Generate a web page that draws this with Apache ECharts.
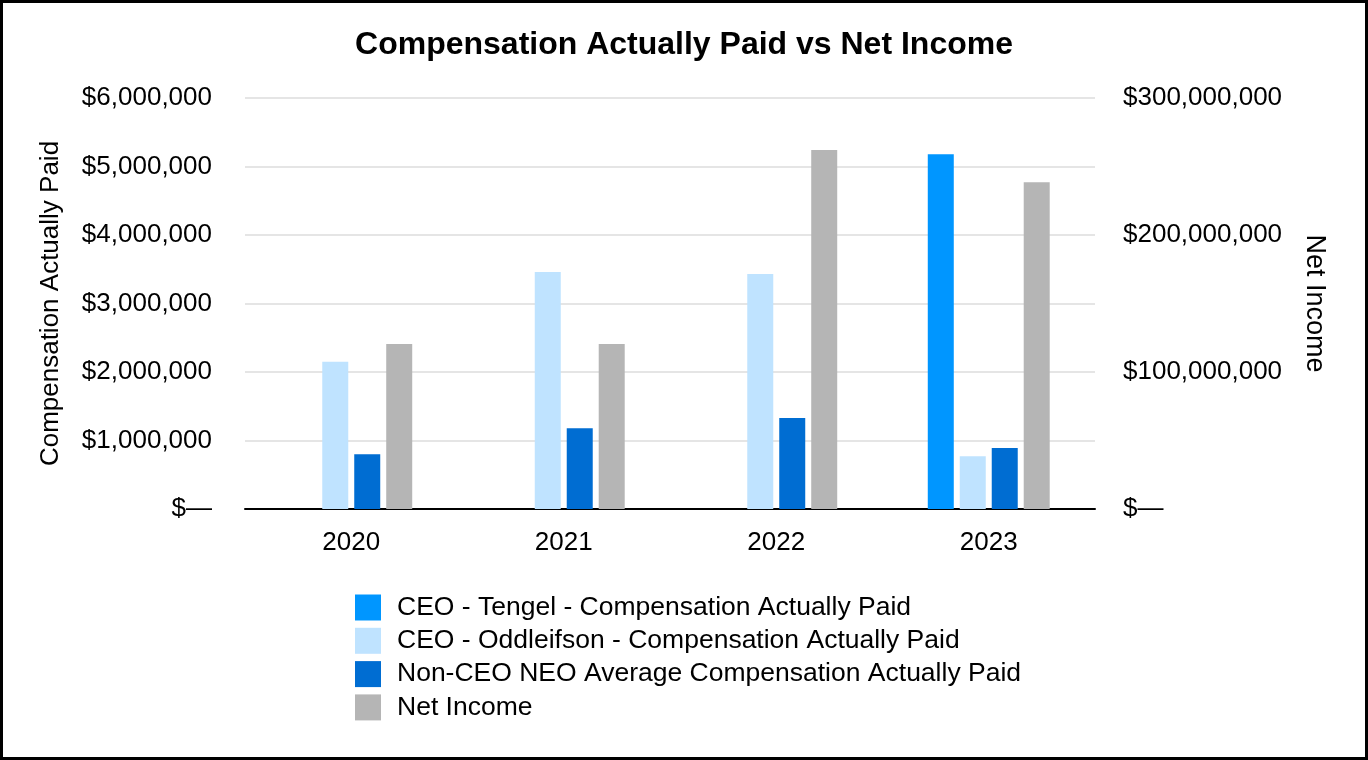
<!DOCTYPE html>
<html>
<head>
<meta charset="utf-8">
<script src="https://cdn.jsdelivr.net/npm/echarts@6/dist/echarts.min.js"></script>
<style>
html,body{margin:0;padding:0;background:#fff;}
#chart{width:1368px;height:760px;}
</style>
</head>
<body>
<div id="chart"></div>
<script>
const categories = ['2020', '2021', '2022', '2023'];
const seriesNames = [
  'CEO - Tengel - Compensation Actually Paid',
  'CEO - Oddleifson - Compensation Actually Paid',
  'Non-CEO NEO Average Compensation Actually Paid',
  'Net Income'
];
const tengel = [null, null, null, 5180000];
const oddleifson = [2150000, 3460000, 3430000, 770000];
const nonCeo = [800000, 1180000, 1330000, 890000];
const netIncome = [120500000, 120500000, 262000000, 238500000];
const colors = ['#0096FF', '#BFE3FF', '#006DD2', '#B5B5B5'];

const FONT = '"Liberation Sans", Arial, sans-serif';
function money(v) {
  if (v === 0) return '$\u2014';
  return '$' + v.toLocaleString('en-US');
}

const chart = echarts.init(document.getElementById('chart'));
const barCommon = { type: 'bar', barWidth: 26, barGap: '23%' };
chart.setOption({
  animation: false,
  textStyle: { fontFamily: FONT },
  title: {
    text: 'Compensation Actually Paid vs Net Income',
    left: 'center', top: 24,
    textStyle: { fontFamily: FONT, fontWeight: 'bold', fontSize: 32, color: '#000' }
  },
  legend: {
    orient: 'vertical', left: 355, top: 594, padding: 0,
    itemWidth: 26, itemHeight: 26, itemGap: 6.3,
    icon: 'rect',
    textStyle: { fontFamily: FONT, fontSize: 26.5, lineHeight: 26, color: '#000', padding: [0, 0, 0, 11] },
    data: seriesNames
  },
  graphic: [{
    type: 'rect', silent: true,
    shape: { x: 1.5, y: 1.5, width: 1365, height: 757 },
    style: { fill: 'none', stroke: '#000', lineWidth: 3 }
  }],
  grid: { left: 245, right: 273, top: 98, bottom: 251, containLabel: false },
  xAxis: {
    type: 'category', data: categories,
    axisLine: { lineStyle: { color: '#000', width: 2 } },
    axisTick: { show: false },
    axisLabel: { fontSize: 26, color: '#000', margin: 21, fontFamily: FONT }
  },
  yAxis: [{
    type: 'value', min: 0, max: 6000000, interval: 1000000,
    name: 'Compensation Actually Paid', nameLocation: 'middle', nameGap: 181,
    nameTextStyle: { fontSize: 26, color: '#000', fontFamily: FONT },
    axisLine: { show: false }, axisTick: { show: false },
    axisLabel: { formatter: money, fontSize: 26, color: '#000', margin: 33, fontFamily: FONT },
    splitLine: { lineStyle: { color: '#E5E5E5', width: 2 } }
  }, {
    type: 'value', min: 0, max: 300000000, interval: 100000000,
    name: 'Net Income', nameLocation: 'middle', nameGap: 206, nameRotate: -90,
    nameTextStyle: { fontSize: 27, color: '#000', fontFamily: FONT },
    axisLine: { show: false }, axisTick: { show: false },
    axisLabel: { formatter: money, fontSize: 26, color: '#000', margin: 28, fontFamily: FONT },
    splitLine: { show: false }
  }],
  series: [
    Object.assign({ name: seriesNames[0], data: tengel, yAxisIndex: 0, itemStyle: { color: colors[0] } }, barCommon),
    Object.assign({ name: seriesNames[1], data: oddleifson, yAxisIndex: 0, itemStyle: { color: colors[1] } }, barCommon),
    Object.assign({ name: seriesNames[2], data: nonCeo, yAxisIndex: 0, itemStyle: { color: colors[2] } }, barCommon),
    Object.assign({ name: seriesNames[3], data: netIncome, yAxisIndex: 1, itemStyle: { color: colors[3] } }, barCommon)
  ]
});
</script>
</body>
</html>
